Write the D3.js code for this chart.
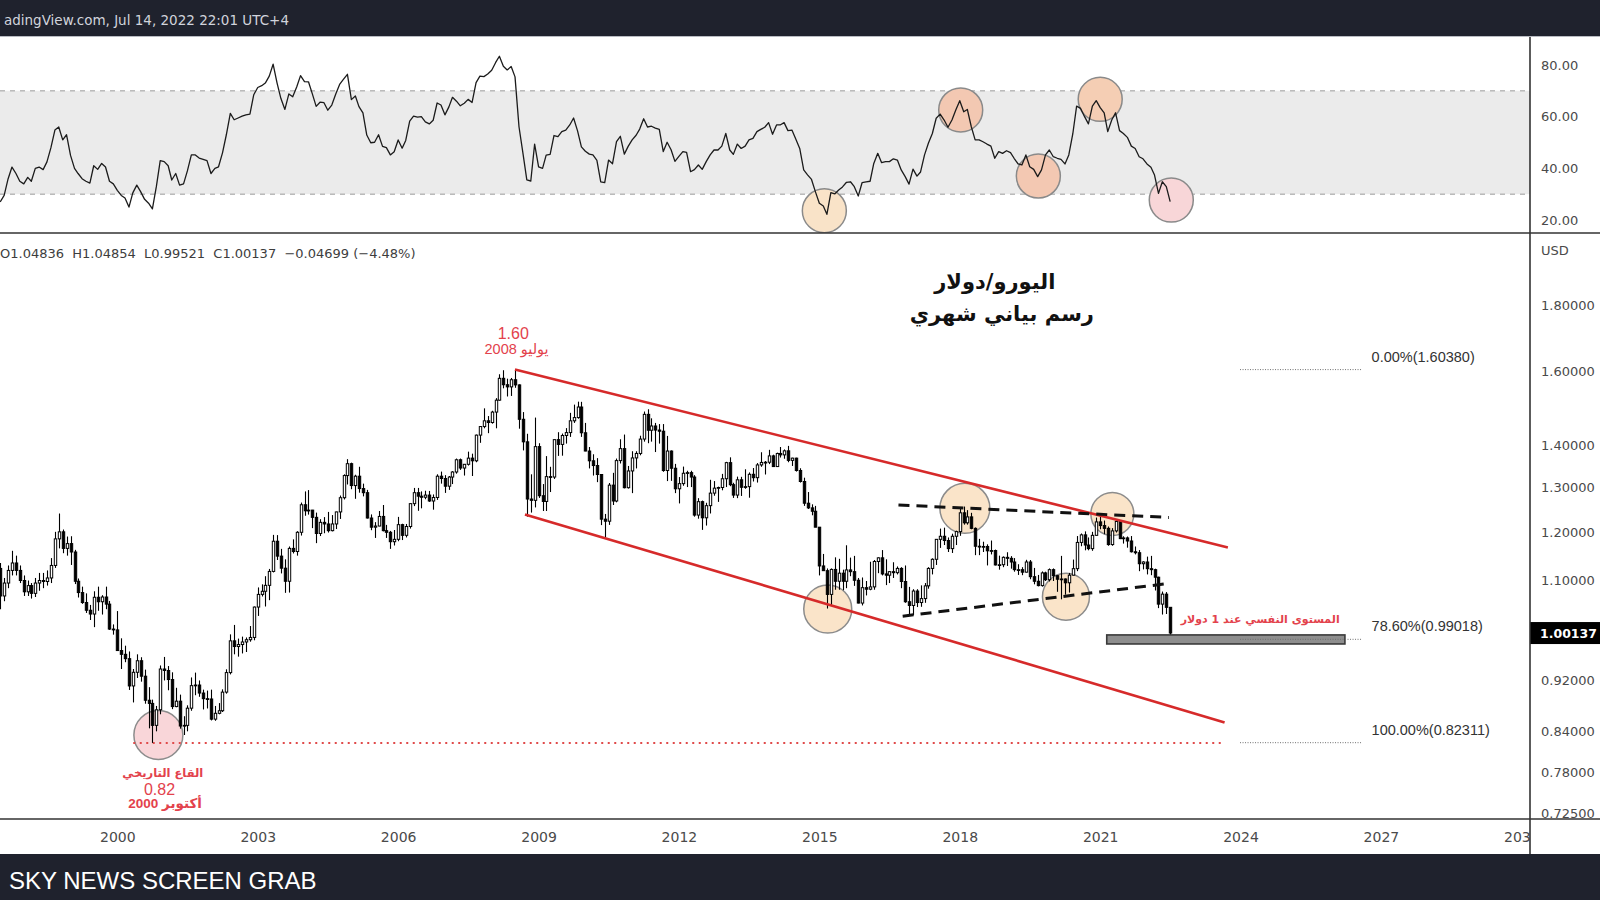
<!DOCTYPE html>
<html><head><meta charset="utf-8">
<script src="https://cdn.jsdelivr.net/npm/d3@7"></script>
<style>
html,body{margin:0;padding:0;background:#fff;overflow:hidden}
svg{display:block}
</style></head><body>
<script>
// ---------------- DATA ----------------
// Monthly EUR/USD candles, first bar = July 1997, last bar = July 2022
const firstBar = [1997, 6];
const firstOpen = 1.124;
const closes = [
1.070,1.095,1.120,1.135,1.120,1.100,
1.078,1.090,1.075,1.095,1.100,1.098,1.105,1.130,1.185,1.200,1.165,1.175,
1.1575,1.0985,1.0765,1.0575,1.0430,1.0360,1.0675,1.0590,1.0680,1.0545,1.0085,1.0070,
0.9705,0.9640,0.9565,0.9110,0.9335,0.9530,0.9270,0.8880,0.8830,0.8490,0.8730,0.9390,
0.9365,0.9215,0.8780,0.8865,0.8480,0.8490,0.8755,0.9115,0.9125,0.8995,0.8905,0.8900,
0.8585,0.8675,0.8715,0.9010,0.9330,0.9875,0.9775,0.9810,0.9855,0.9895,0.9935,1.0490,
1.0730,1.0790,1.0905,1.1180,1.1800,1.1490,1.1245,1.0985,1.1650,1.1585,1.1990,1.2595,
1.2460,1.2475,1.2315,1.1965,1.2205,1.2170,1.2025,1.2170,1.2435,1.2755,1.3270,1.3555,
1.3035,1.3255,1.2965,1.2870,1.2300,1.2100,1.2125,1.2335,1.2025,1.1990,1.1790,1.1840,
1.2155,1.1925,1.2115,1.2620,1.2870,1.2790,1.2765,1.2815,1.2680,1.2760,1.3255,1.3200,
1.3020,1.3235,1.3355,1.3650,1.3450,1.3540,1.3690,1.3625,1.4265,1.4485,1.4635,1.4590,
1.4865,1.5185,1.5790,1.5610,1.5550,1.5750,1.5605,1.4675,1.4095,1.2725,1.2695,1.3975,
1.2800,1.2670,1.3245,1.3235,1.4150,1.4030,1.4255,1.4330,1.4635,1.4720,1.5000,1.4325,
1.3865,1.3625,1.3510,1.3295,1.2275,1.2230,1.3045,1.2680,1.3630,1.3925,1.2985,1.3380,
1.3695,1.3805,1.4165,1.4805,1.4390,1.4500,1.4395,1.4365,1.3390,1.3865,1.3445,1.2960,
1.3080,1.3325,1.3340,1.3235,1.2365,1.2665,1.2305,1.2575,1.2860,1.2975,1.2990,1.3195,
1.3580,1.3055,1.2815,1.3170,1.2995,1.3010,1.3300,1.3220,1.3525,1.3585,1.3590,1.3745,
1.3485,1.3805,1.3770,1.3870,1.3635,1.3690,1.3390,1.3130,1.2630,1.2525,1.2450,1.2100,
1.1290,1.1195,1.0730,1.1220,1.0985,1.1145,1.0985,1.1210,1.1175,1.1005,1.0565,1.0860,
1.0830,1.0875,1.1380,1.1455,1.1130,1.1105,1.1175,1.1155,1.1240,1.0980,1.0590,1.0520,
1.0795,1.0575,1.0650,1.0895,1.1240,1.1425,1.1840,1.1905,1.1815,1.1645,1.1905,1.2005,
1.2415,1.2195,1.2325,1.2075,1.1695,1.1685,1.1690,1.1600,1.1605,1.1310,1.1315,1.1465,
1.1445,1.1370,1.1215,1.1215,1.1165,1.1370,1.1075,1.0985,1.0900,1.1150,1.1015,1.1215,
1.1095,1.1025,1.1030,1.0955,1.1105,1.1235,1.1775,1.1935,1.1720,1.1645,1.1925,1.2215,
1.2135,1.2075,1.1730,1.2020,1.2225,1.1855,1.1870,1.1805,1.1580,1.1560,1.1335,1.1370,
1.1235,1.1215,1.1065,1.0545,1.0735,1.0485,1.00137
];
const highs = [
1.135,1.105,1.130,1.160,1.150,1.130,
1.110,1.100,1.095,1.105,1.115,1.115,1.120,1.145,1.200,1.240,1.205,1.190,
1.1906,1.1620,1.1040,1.0880,1.0750,1.0530,1.0790,1.0880,1.0715,1.0880,1.0605,1.0170,
1.0415,0.9920,0.9790,0.9690,0.9390,0.9640,0.9590,0.9380,0.9090,0.8890,0.8790,0.9450,
0.9595,0.9440,0.9335,0.9080,0.8970,0.8630,0.8800,0.9250,0.9330,0.9200,0.9050,0.9035,
0.9050,0.8790,0.8835,0.9055,0.9385,0.9990,1.0160,0.9915,0.9950,0.9935,1.0140,1.0500,
1.0865,1.0925,1.1085,1.1230,1.1935,1.1930,1.1640,1.1425,1.1690,1.1840,1.2015,1.2645,
1.2900,1.2930,1.2480,1.2420,1.2275,1.2320,1.2435,1.2365,1.2440,1.2805,1.3300,1.3665,
1.3580,1.3290,1.3480,1.3080,1.2935,1.2380,1.2210,1.2455,1.2590,1.2150,1.2020,1.2040,
1.2325,1.2175,1.2170,1.2625,1.2980,1.2980,1.2900,1.2915,1.2910,1.2830,1.3300,1.3365,
1.3280,1.3260,1.3375,1.3680,1.3680,1.3545,1.3850,1.3800,1.4280,1.4500,1.4965,1.4760,
1.4900,1.5240,1.5905,1.6020,1.5780,1.5800,1.6038,1.5620,1.4865,1.4300,1.3300,1.4720,
1.4060,1.3070,1.3740,1.3480,1.4150,1.4340,1.4305,1.4445,1.4845,1.5065,1.5145,1.5140,
1.4580,1.3965,1.3785,1.3690,1.3300,1.2390,1.3095,1.3335,1.3680,1.4160,1.4280,1.3500,
1.3860,1.3860,1.4250,1.4880,1.4940,1.4700,1.4580,1.4550,1.4550,1.4245,1.3880,1.3550,
1.3235,1.3485,1.3385,1.3385,1.3280,1.2745,1.2690,1.2640,1.3170,1.3140,1.3010,1.3310,
1.3600,1.3710,1.3100,1.3245,1.3240,1.3420,1.3345,1.3450,1.3570,1.3835,1.3620,1.3895,
1.3775,1.3825,1.3965,1.3905,1.3993,1.3700,1.3700,1.3445,1.3220,1.2885,1.2605,1.2570,
1.2105,1.1535,1.1240,1.1240,1.1465,1.1435,1.1215,1.1715,1.1460,1.1495,1.1050,1.1060,
1.0990,1.1375,1.1410,1.1465,1.1615,1.1425,1.1185,1.1365,1.1280,1.1265,1.1300,1.0875,
1.0830,1.0830,1.0905,1.0950,1.1265,1.1445,1.1845,1.2070,1.2090,1.1880,1.1960,1.2025,
1.2535,1.2555,1.2475,1.2415,1.2095,1.1850,1.1790,1.1735,1.1815,1.1625,1.1500,1.1485,
1.1570,1.1490,1.1450,1.1325,1.1265,1.1415,1.1410,1.1250,1.1110,1.1180,1.1175,1.1240,
1.1240,1.1100,1.1495,1.1040,1.1150,1.1420,1.1910,1.1965,1.2010,1.1880,1.2000,1.2310,
1.2349,1.2245,1.2115,1.2080,1.2265,1.2255,1.1905,1.1900,1.1910,1.1690,1.1615,1.1385,
1.1480,1.1495,1.1235,1.1075,1.0785,1.0775,1.04854
];
const lows = [
1.045,1.060,1.085,1.110,1.110,1.095,
1.070,1.070,1.065,1.068,1.080,1.085,1.090,1.095,1.125,1.165,1.155,1.150,
1.1310,1.0930,1.0670,1.0550,1.0380,1.0250,1.0120,1.0420,1.0350,1.0450,1.0070,0.9985,
0.9700,0.9390,0.9505,0.9045,0.8845,0.9240,0.9180,0.8825,0.8445,0.8228,0.8400,0.8660,
0.9200,0.9040,0.8740,0.8770,0.8440,0.8345,0.8400,0.8715,0.8960,0.8935,0.8735,0.8750,
0.8565,0.8560,0.8660,0.8695,0.8985,0.9300,0.9640,0.9600,0.9655,0.9680,0.9860,0.9885,
1.0325,1.0690,1.0500,1.0620,1.1160,1.1410,1.1140,1.0760,1.0765,1.1545,1.1500,1.1920,
1.2350,1.2375,1.2080,1.1760,1.1910,1.1970,1.1985,1.2010,1.2060,1.2280,1.2715,1.3060,
1.2950,1.2730,1.2870,1.2785,1.2290,1.2035,1.1870,1.2120,1.2010,1.1870,1.1640,1.1710,
1.1800,1.1825,1.1880,1.2070,1.2565,1.2460,1.2515,1.2720,1.2660,1.2485,1.2705,1.3080,
1.2865,1.2935,1.3070,1.3315,1.3405,1.3270,1.3510,1.3260,1.3590,1.4070,1.4440,1.4315,
1.4560,1.4440,1.5170,1.5510,1.5285,1.5300,1.5525,1.4430,1.3880,1.2330,1.2420,1.2535,
1.2750,1.2455,1.2455,1.2885,1.3190,1.3745,1.3750,1.4050,1.4220,1.4580,1.4690,1.4220,
1.3860,1.3440,1.3270,1.3115,1.2145,1.1876,1.2150,1.2590,1.2650,1.3560,1.2970,1.2965,
1.2860,1.3440,1.3760,1.4100,1.4060,1.4100,1.3840,1.4050,1.3360,1.3140,1.3145,1.2860,
1.2625,1.3030,1.3000,1.3000,1.2330,1.2285,1.2042,1.2135,1.2400,1.2800,1.2660,1.2925,
1.3000,1.3020,1.2750,1.2745,1.2795,1.2960,1.2755,1.3130,1.3105,1.3480,1.3295,1.3545,
1.3475,1.3475,1.3705,1.3675,1.3590,1.3500,1.3365,1.3105,1.2570,1.2500,1.2360,1.2100,
1.1100,1.1190,1.0462,1.0520,1.0820,1.0820,1.0810,1.0850,1.1085,1.0895,1.0560,1.0520,
1.0710,1.0810,1.0820,1.1145,1.1100,1.0910,1.0950,1.1050,1.1120,1.0850,1.0570,1.0340,
1.0340,1.0490,1.0495,1.0570,1.0840,1.1120,1.1310,1.1660,1.1720,1.1575,1.1555,1.1720,
1.1915,1.2155,1.2155,1.2055,1.1510,1.1510,1.1575,1.1300,1.1525,1.1300,1.1215,1.1265,
1.1290,1.1235,1.1175,1.1110,1.1105,1.1160,1.1025,1.0925,1.0885,1.0880,1.0990,1.0980,
1.0990,1.0780,1.0636,1.0725,1.0765,1.1100,1.1185,1.1695,1.1610,1.1610,1.1600,1.1920,
1.2055,1.1950,1.1705,1.1705,1.1985,1.1845,1.1750,1.1665,1.1565,1.1525,1.1185,1.1220,
1.1120,1.1105,1.0805,1.0470,1.0350,1.0360,0.99521
];
// Monthly RSI(14)
const rsi = [
27,29.5,36,40.5,38,35,34,36.5,35,40,40.5,39.5,42.5,48,54.8,56,51,53,45,40,
38,36,35,34.3,41,39.6,41.9,40.5,35,34,31.5,29.5,28.5,25,30.5,33.5,31,28,26.5,24.3,
33,43,42.6,41,35.5,38,33.5,34,39,45.2,45.2,44,43.5,43,38,40,40.6,46,53,61.3,
58.8,59.5,60.2,60.7,61,68.5,71.3,72,73,75.7,80.3,73,67,62.8,68.8,67.7,71.5,75.9,73.6,73.5,
69,64,65.6,65.4,62.5,64.5,68.8,72.5,74.5,76.4,66.6,68,63.9,61.5,52.9,49.9,50.1,53,48.5,48,
45.2,46.4,51,47.8,50.8,58.3,60.2,59.8,60,58,57.2,58.6,65.3,64.5,60.7,63.8,67.5,66,64.2,65.2,
66.7,65.5,73.2,75.7,75.5,76.5,78,81,83.4,79.5,78.1,79.4,75.4,56.1,45.8,35.5,35.1,49.4,40.6,40,
45.1,45.4,52.7,52.3,54.2,54.8,56.8,59.5,54.5,48.3,46.6,45.5,45.2,43.1,34.8,34.5,43.2,41.8,50.3,52.4,
45.5,48.5,51,52.8,55.2,59.2,56,56.3,55.6,55.1,46.5,50.1,47.2,42.7,44.6,46.5,46.2,38.7,39.5,41.3,
39.6,42.6,45.2,47.1,47.1,48.6,53.5,47.1,45.4,49.4,47.7,48.6,51,51.6,54.2,55.1,55.9,57.7,53.2,56.8,
56.8,57.7,54.6,54.8,51.4,47.7,39.4,37.5,35.7,31,26.5,25.4,22.2,30.6,30.1,31.6,32.8,34.6,34.8,32.9,
29.3,34.5,34.8,35,41.9,45.8,42.2,42.6,42.6,43.7,43.2,39.4,36.8,33.9,39.7,37,38.6,45.2,49.7,53.5,
59.4,61,58.7,55.9,58.7,62.6,66.2,61.9,62.8,56.1,51,51,50.3,49.4,48.6,43.9,46.5,45.8,46.8,46.1,
43.9,41.7,41.3,45.2,40.6,39.6,36.8,39.4,45.2,47.1,44.5,43.9,43.5,41.7,45.2,53.3,64.1,63.2,60,57.2,
64.1,66.2,63.5,61.5,54.2,58.7,61.5,54.6,53.5,52,48.6,47.7,44.5,43.7,41.7,40.4,37.4,30.3,34.8,32.9,
27.1
];
const priceTicks = [1.8, 1.6, 1.4, 1.3, 1.2, 1.1, 0.92, 0.84, 0.78, 0.725];
const rsiTicks = [80, 60, 40, 20];
const yearTicks = [2000, 2003, 2006, 2009, 2012, 2015, 2018, 2021, 2024, 2027, 2030];
const lastPrice = 1.00137;
const ohlcText = "O1.04836  H1.04854  L0.99521  C1.00137  \u22120.04699 (\u22124.48%)";
const headerText = "adingView.com, Jul 14, 2022 22:01 UTC+4";

// Drawings, anchored in [decimal year, value]
const channelUpper = [[2008.496, 1.6038], [2023.73, 1.167]];
const channelLower = [[2008.71, 1.238], [2023.66, 0.8535]];
const neckTop = [[2016.69, 1.259], [2022.47, 1.2312]];
const neckBottom = [[2016.78, 1.032], [2022.49, 1.0945]];
const lowLine = [[2000.34, 0.8228], [2023.66, 0.8228]];
const priceCircles = [[2000.876, 0.8345], [2015.18, 1.0453], [2018.109, 1.2516], [2020.27, 1.0686], [2021.26, 1.2389]];
const rsiCircles = [[2015.107, 23.6], [2018.02, 62.6], [2019.68, 37.0], [2021.0, 66.7], [2022.52, 27.7]];
const fibLevels = [["0.00%", 1.60380], ["78.60%", 0.99018], ["100.00%", 0.82311]];
const fibSpan = [2023.99, 2026.6, 2026.8];
const supportZone = [[2021.14, 0.998], [2026.23, 0.982]];
const notes = [
  [2008.46, 1.7114, "1.60"],
  [2008.53, 1.664, "يوليو 2008"],
  [2000.97, 0.7793, "القاع التاريخي"],
  [2000.90, 0.7573, "0.82"],
  [2001.02, 0.7393, "أكتوبر 2000"],
  [2024.42, 1.0268, "المستوى النفسي عند 1 دولار"]
];
const titleLines = [[2018.75, 1.877, "اليورو/دولار"], [2018.90, 1.7737, "رسم بياني شهري"]];

// ---------------- LAYOUT / STYLE ----------------
const W = 1600, H = 900;
const axisX = 1530, rsiTop = 36, rsiBottom = 233, priceTop = 233, priceBottom = 819, footerTop = 854;
const RED = "#d62a2a", TXTRED = "#e3424c";
const AR = "'DejaVu Sans', sans-serif";

function fy(t) {
  const y = Math.floor(t);
  const a = new Date(y, 0, 1).getTime(), b = new Date(y + 1, 0, 1).getTime();
  return new Date(a + (t - y) * (b - a));
}

const x = d3.scaleTime().domain([new Date(2000, 0, 1), new Date(2024, 0, 1)]).range([117.3, 1240.5]);
const y = d3.scaleLog().domain([0.71813, 2.04746]).range([priceBottom, priceTop]);
const yr = d3.scaleLinear().domain([14.97, 91.23]).range([rsiBottom, rsiTop]);

const bars = closes.map((c, i) => {
  const o = i === 0 ? firstOpen : closes[i - 1]; // FX monthly bar opens at previous close
  return { date: new Date(firstBar[0], firstBar[1] + i, 1), o, c,
           h: Math.max(highs[i], o, c), l: Math.min(lows[i], o, c) };
});

const svg = d3.select("body").append("svg").attr("width", W).attr("height", H);
const defs = svg.append("defs");
defs.append("clipPath").attr("id", "cp").append("rect").attr("x", 0).attr("y", priceTop).attr("width", axisX).attr("height", priceBottom - priceTop);
defs.append("clipPath").attr("id", "cr").append("rect").attr("x", 0).attr("y", rsiTop).attr("width", axisX).attr("height", rsiBottom - rsiTop);
defs.append("clipPath").attr("id", "ct").append("rect").attr("x", 0).attr("y", priceBottom).attr("width", axisX).attr("height", footerTop - priceBottom);
defs.append("clipPath").attr("id", "cpa").append("rect").attr("x", axisX).attr("y", priceTop).attr("width", W - axisX).attr("height", priceBottom - priceTop);

svg.append("rect").attr("width", W).attr("height", H).attr("fill", "#fff");

// ---------- RSI panel ----------
const gR = svg.append("g").attr("clip-path", "url(#cr)");
gR.append("rect").attr("x", 0).attr("width", axisX).attr("y", yr(70)).attr("height", yr(30) - yr(70)).attr("fill", "#ebebeb");
[70, 30].forEach(v => gR.append("line").attr("x1", 0).attr("x2", axisX).attr("y1", yr(v)).attr("y2", yr(v))
  .attr("stroke", "#9b9b9b").attr("stroke-width", 1).attr("stroke-dasharray", "5,5"));
const rsiFills = ["#f9e3c8", "#f3c8b2", "#f3c8b2", "#f5ceb4", "#f8d6d8"];
gR.selectAll("circle.rc").data(rsiCircles).join("circle").attr("class", "rc")
  .attr("cx", d => x(fy(d[0]))).attr("cy", d => yr(d[1])).attr("r", 22)
  .attr("fill", (d, i) => rsiFills[i]).attr("stroke", "#8a8a8a").attr("stroke-width", 1.5);
gR.append("path").datum(rsi).attr("fill", "none").attr("stroke", "#1b1b1b").attr("stroke-width", 1.3)
  .attr("stroke-linejoin", "round")
  .attr("d", d3.line().x((d, i) => x(bars[i].date)).y(d => yr(d)));

// ---------- Price panel ----------
const gP = svg.append("g").attr("clip-path", "url(#cp)");
const circleFills = ["#f9d6d9", "#fae4c9", "#fae4c9", "#fae4c9", "#fae4c9"];
gP.selectAll("circle.pc").data(priceCircles).join("circle").attr("class", "pc")
  .attr("cx", d => x(fy(d[0]))).attr("cy", d => y(d[1])).attr("r", (d, i) => [24.5, 24, 25, 23.5, 21.5][i])
  .attr("fill", (d, i) => circleFills[i]).attr("stroke", "#8c8c8c").attr("stroke-width", 1.5);

gP.append("line").attr("x1", x(fy(lowLine[0][0]))).attr("x2", x(fy(lowLine[1][0])))
  .attr("y1", y(lowLine[0][1])).attr("y2", y(lowLine[1][1]))
  .attr("stroke", "#e04a4a").attr("stroke-width", 2).attr("stroke-dasharray", "2,4.5");

const gC = gP.append("g");
bars.forEach(b => {
  const cx = Math.round(x(b.date)) + 0.5;
  gC.append("line").attr("x1", cx).attr("x2", cx).attr("y1", y(b.h)).attr("y2", y(b.l))
    .attr("stroke", "#000").attr("stroke-width", 1.1);
  const top = y(Math.max(b.o, b.c)), bot = y(Math.min(b.o, b.c));
  gC.append("rect").attr("x", cx - 1.2).attr("width", 2.4).attr("y", top).attr("height", Math.max(0.8, bot - top))
    .attr("fill", b.c >= b.o ? "#fff" : "#000").attr("stroke", "#000").attr("stroke-width", 1);
});

const seg = (g, pts, stroke, w, dash) => g.append("line")
  .attr("x1", x(fy(pts[0][0]))).attr("y1", y(pts[0][1])).attr("x2", x(fy(pts[1][0]))).attr("y2", y(pts[1][1]))
  .attr("stroke", stroke).attr("stroke-width", w).attr("stroke-dasharray", dash || null);
seg(gP, channelUpper, RED, 2.6);
seg(gP, channelLower, RED, 2.6);
seg(gP, neckTop, "#111", 3, "11,7");
seg(gP, neckBottom, "#111", 3, "11,7");

// support zone
gP.append("rect").attr("x", x(fy(supportZone[0][0]))).attr("y", y(supportZone[0][1]))
  .attr("width", x(fy(supportZone[1][0])) - x(fy(supportZone[0][0])))
  .attr("height", y(supportZone[1][1]) - y(supportZone[0][1]))
  .attr("fill", "#8e8e8e").attr("stroke", "#3a3a3a").attr("stroke-width", 1.6);

// fib levels
fibLevels.forEach(f => {
  const yy = y(f[1]);
  gP.append("line").attr("x1", x(fy(fibSpan[0]))).attr("x2", x(fy(fibSpan[1]))).attr("y1", yy).attr("y2", yy)
    .attr("stroke", "#6f6f6f").attr("stroke-width", 1).attr("stroke-dasharray", "1,1.5");
  gP.append("text").attr("x", x(fy(fibSpan[2]))).attr("y", yy - 8)
    .attr("font-family", "'Liberation Sans', Arial, sans-serif").attr("font-size", 14.5).attr("fill", "#333")
    .text(f[0] + "(" + f[1].toFixed(5) + ")");
});

// notes
const noteStyle = [
  { size: 16, weight: "normal", fam: "'Liberation Sans', Arial, sans-serif" },
  { size: 14.5, weight: "normal", fam: "'Liberation Sans', 'DejaVu Sans', sans-serif" },
  { size: 11.5, weight: "bold", fam: AR },
  { size: 16, weight: "normal", fam: "'Liberation Sans', Arial, sans-serif" },
  { size: 13.5, weight: "bold", fam: "'Liberation Sans', 'DejaVu Sans', sans-serif" },
  { size: 11, weight: "bold", fam: AR }
];
notes.forEach((n, i) => {
  gP.append("text").attr("x", x(fy(n[0]))).attr("y", y(n[1])).attr("dy", "0.36em")
    .attr("text-anchor", "middle").attr("direction", /[\u0600-\u06FF]/.test(n[2]) ? "rtl" : "ltr")
    .attr("font-family", noteStyle[i].fam).attr("font-size", noteStyle[i].size).attr("font-weight", noteStyle[i].weight)
    .attr("fill", TXTRED).text(n[2]);
});
titleLines.forEach(t => {
  gP.append("text").attr("x", x(fy(t[0]))).attr("y", y(t[1])).attr("dy", "0.36em")
    .attr("text-anchor", "middle").attr("direction", "rtl")
    .attr("font-family", AR).attr("font-size", 21).attr("font-weight", "bold").attr("fill", "#111").text(t[2]);
});

// OHLC legend
svg.append("text").attr("x", 0).attr("y", 258).attr("font-family", "'DejaVu Sans', sans-serif").attr("font-size", 13)
  .attr("fill", "#3d3d3d").style("white-space", "pre").text(ohlcText);

// ---------- Axes ----------
const gY = svg.append("g").attr("clip-path", "url(#cpa)").append("g").attr("transform", `translate(${axisX},0)`)
  .call(d3.axisRight(y).tickValues(priceTicks).tickFormat(d3.format(".5f")).tickSize(0).tickPadding(11));
const gYR = svg.append("g").attr("transform", `translate(${axisX},0)`)
  .call(d3.axisRight(yr).tickValues(rsiTicks).tickFormat(d3.format(".2f")).tickSize(0).tickPadding(11));
const gX = svg.append("g").attr("clip-path", "url(#ct)").append("g").attr("transform", `translate(0,${priceBottom})`)
  .call(d3.axisBottom(x).tickValues(yearTicks.map(v => new Date(v, 0, 1))).tickFormat(d3.timeFormat("%Y")).tickSize(0).tickPadding(13));
[gY, gYR, gX].forEach(g => {
  g.select(".domain").remove();
  g.selectAll("text").attr("font-family", "'DejaVu Sans', sans-serif").attr("fill", "#4a4a4a");
});
gY.selectAll("text").attr("font-size", 13);
gYR.selectAll("text").attr("font-size", 13);
gX.selectAll("text").attr("font-size", 14);

svg.append("text").attr("x", axisX + 11).attr("y", 255).attr("font-family", "'DejaVu Sans', sans-serif")
  .attr("font-size", 13).attr("fill", "#4a4a4a").text("USD");

// current price tag
const yl = y(lastPrice);
svg.append("rect").attr("x", axisX).attr("y", yl - 11).attr("width", W - axisX).attr("height", 22).attr("fill", "#000");
svg.append("text").attr("x", axisX + 10).attr("y", yl).attr("dy", "0.36em").attr("font-family", "'DejaVu Sans', sans-serif")
  .attr("font-weight", "bold").attr("font-size", 12.5).attr("fill", "#fff").text(d3.format(".5f")(lastPrice));

// ---------- Frame ----------
svg.append("line").attr("x1", 0).attr("x2", W).attr("y1", rsiBottom).attr("y2", rsiBottom).attr("stroke", "#333").attr("stroke-width", 1.6);
svg.append("line").attr("x1", 0).attr("x2", W).attr("y1", priceBottom).attr("y2", priceBottom).attr("stroke", "#333").attr("stroke-width", 1.6);
svg.append("line").attr("x1", axisX).attr("x2", axisX).attr("y1", rsiTop).attr("y2", footerTop).attr("stroke", "#333").attr("stroke-width", 1.6);

// header & footer
svg.append("rect").attr("x", 0).attr("y", 0).attr("width", W).attr("height", rsiTop).attr("fill", "#1f222d");
svg.append("line").attr("x1", 0).attr("x2", W).attr("y1", rsiTop + 0.5).attr("y2", rsiTop + 0.5).attr("stroke", "#b8bbc2").attr("stroke-width", 1);
svg.append("text").attr("x", 289).attr("y", 25).attr("text-anchor", "end").attr("font-family", "'DejaVu Sans', sans-serif")
  .attr("font-size", 13.5).attr("fill", "#d1d4dc").text(headerText);
svg.append("rect").attr("x", 0).attr("y", footerTop).attr("width", W).attr("height", H - footerTop).attr("fill", "#1f222d");
svg.append("text").attr("x", 9).attr("y", 889).attr("font-family", "'Liberation Sans', Arial, sans-serif")
  .attr("font-size", 24).attr("fill", "#fff").text("SKY NEWS SCREEN GRAB");
</script>
</body></html>
